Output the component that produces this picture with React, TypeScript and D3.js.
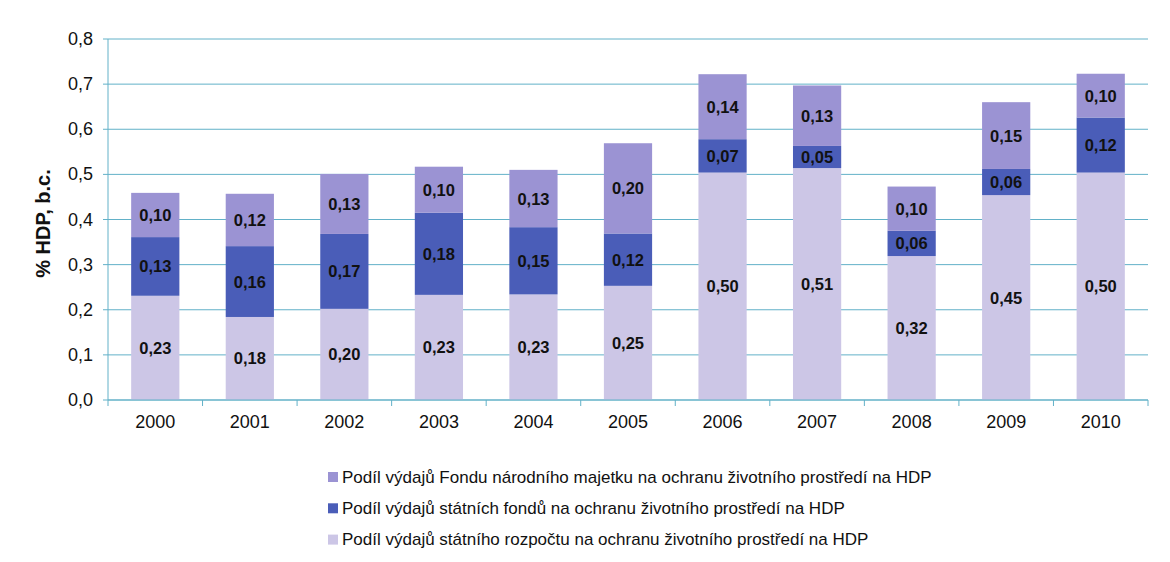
import React from 'react';
import * as d3 from 'd3';

const years = ['2000', '2001', '2002', '2003', '2004', '2005', '2006', '2007', '2008', '2009', '2010'];
const stateBudget = [0.231, 0.184, 0.202, 0.233, 0.234, 0.253, 0.504, 0.514, 0.319, 0.454, 0.504];
const stateFunds = [0.130, 0.157, 0.166, 0.182, 0.149, 0.116, 0.074, 0.049, 0.056, 0.058, 0.122];
const fnmFund = [0.098, 0.116, 0.133, 0.102, 0.127, 0.200, 0.144, 0.134, 0.098, 0.148, 0.097];
const yTicks = [0, 0.1, 0.2, 0.3, 0.4, 0.5, 0.6, 0.7, 0.8];

const seriesNames = [
  'Podíl výdajů Fondu národního majetku na ochranu životního prostředí na HDP',
  'Podíl výdajů státních fondů na ochranu životního prostředí na HDP',
  'Podíl výdajů státního rozpočtu na ochranu životního prostředí na HDP',
];
const seriesColors = ['#9b93d3', '#4a5db8', '#ccc6e6'];

const W = 1170;
const H = 562;
const left = 108;
const right = 1148;
const top = 39;
const bottom = 400;
const font = 'Liberation Sans, Arial, sans-serif';
const gridColor = '#62b1c8';

const fmt = (v: number) => v.toFixed(2).replace('.', ',');

export default function App() {
  const x = d3.scaleBand<string>().domain(years).range([left, right]).paddingInner(0.49).paddingOuter(0.245);
  const y = d3.scaleLinear().domain([0, 0.8]).range([bottom, top]);

  const rows = years.map((yr, i) => ({ year: yr, budget: stateBudget[i], funds: stateFunds[i], fnm: fnmFund[i] }));
  const stack = d3.stack<any>().keys(['budget', 'funds', 'fnm'])(rows);
  const colorByKey: Record<string, string> = { budget: seriesColors[2], funds: seriesColors[1], fnm: seriesColors[0] };

  const step = x.step();
  const bw = x.bandwidth();

  return (
    <svg width={W} height={H} style={{ position: 'absolute', left: 0, top: 0, background: '#fff' }} fontFamily={font}>
      {yTicks.map((t) => (
        <line key={'g' + t} x1={left - 5} x2={right} y1={y(t)} y2={y(t)} stroke={gridColor} strokeWidth={1} />
      ))}
      <line x1={left} x2={left} y1={top} y2={bottom} stroke={gridColor} strokeWidth={1} />
      {yTicks.map((t) => (
        <text key={'yl' + t} x={93} y={y(t)} textAnchor="end" dominantBaseline="central" fontSize={18} fill="#111">
          {t.toFixed(1).replace('.', ',')}
        </text>
      ))}
      <text
        transform={`translate(43, ${(top + bottom) / 2 + 4}) rotate(-90)`}
        textAnchor="middle"
        dominantBaseline="central"
        fontSize={20}
        fontWeight="bold"
        fill="#111"
      >
        % HDP, b.c.
      </text>
      {stack.map((s) => (
        <g key={s.key} fill={colorByKey[s.key]}>
          {s.map((d, i) => (
            <rect key={i} x={x(years[i])} y={y(d[1])} width={bw} height={y(d[0]) - y(d[1])} />
          ))}
        </g>
      ))}
      {stack.map((s) => (
        <g key={'l' + s.key}>
          {s.map((d, i) => (
            <text
              key={i}
              x={(x(years[i]) as number) + bw / 2}
              y={(y(d[0]) + y(d[1])) / 2}
              textAnchor="middle"
              dominantBaseline="central"
              fontSize={16.5}
              fontWeight="bold"
              fill="#111"
            >
              {fmt(d[1] - d[0])}
            </text>
          ))}
        </g>
      ))}
      <line x1={left} x2={right} y1={bottom} y2={bottom} stroke={gridColor} strokeWidth={1} />
      {d3.range(years.length + 1).map((i) => (
        <line key={'xt' + i} x1={left + i * step} x2={left + i * step} y1={bottom} y2={bottom + 6} stroke={gridColor} strokeWidth={1} />
      ))}
      {years.map((yr) => (
        <text key={'xl' + yr} x={(x(yr) as number) + bw / 2} y={422} textAnchor="middle" dominantBaseline="central" fontSize={18} fill="#111">
          {yr}
        </text>
      ))}
      {seriesNames.map((n, i) => (
        <g key={'lg' + i} transform={`translate(328, ${477 + i * 31.3})`}>
          <rect x={0} y={-5} width={10} height={10} fill={seriesColors[i]} />
          <text x={14} y={0} dominantBaseline="central" fontSize={17} fill="#111">
            {n}
          </text>
        </g>
      ))}
    </svg>
  );
}
